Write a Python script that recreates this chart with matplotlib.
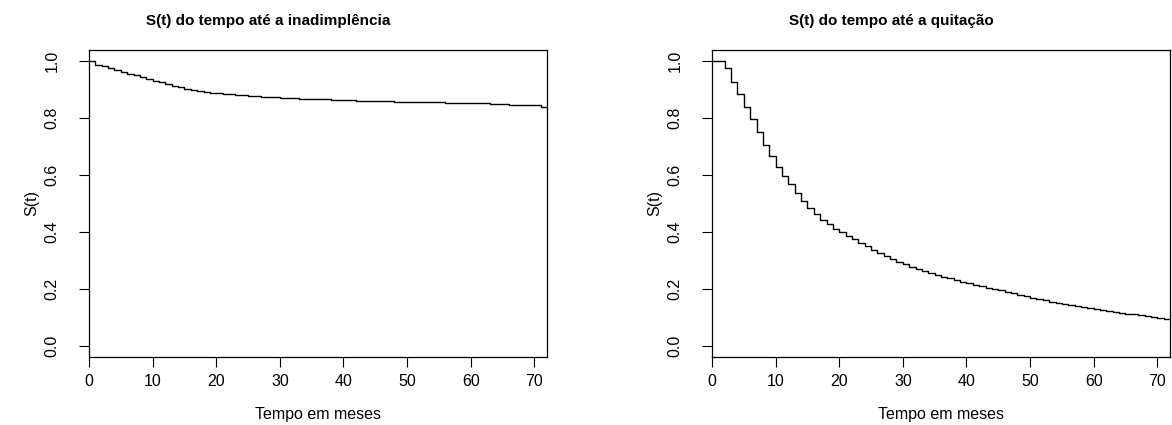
#!/usr/bin/env python3
"""Kaplan-Meier style curves: time to default and time to payoff."""

import matplotlib

matplotlib.use("Agg")
import matplotlib.pyplot as plt
import numpy as np

plt.rcParams["font.family"] = ["Liberation Sans", "DejaVu Sans"]

MONTHS = np.arange(0, 72)

# S(t) for time to default (one value per month)
S_DEFAULT = [
    1.000, 0.988, 0.982, 0.976, 0.970, 0.964, 0.957, 0.951, 0.944, 0.938,
    0.932, 0.926, 0.920, 0.914, 0.909, 0.904, 0.899, 0.895, 0.892, 0.890,
    0.888, 0.886, 0.884, 0.882, 0.880, 0.878, 0.877, 0.875, 0.874, 0.873,
    0.872, 0.871, 0.870, 0.869, 0.868, 0.867, 0.866, 0.866, 0.865, 0.865,
    0.864, 0.863, 0.862, 0.861, 0.861, 0.860, 0.859, 0.859, 0.858, 0.858,
    0.857, 0.857, 0.857, 0.856, 0.856, 0.856, 0.855, 0.855, 0.855, 0.854,
    0.854, 0.853, 0.852, 0.851, 0.850, 0.849, 0.848, 0.847, 0.846, 0.845,
    0.845, 0.841,
]

# S(t) for time to payoff
S_PAYOFF = [
    1.000, 1.000, 0.976, 0.929, 0.885, 0.841, 0.797, 0.751, 0.706, 0.668,
    0.628, 0.597, 0.568, 0.536, 0.509, 0.483, 0.462, 0.441, 0.427, 0.412,
    0.399, 0.386, 0.374, 0.361, 0.350, 0.337, 0.327, 0.316, 0.305, 0.294,
    0.286, 0.278, 0.270, 0.263, 0.256, 0.249, 0.243, 0.237, 0.231, 0.225,
    0.220, 0.215, 0.209, 0.204, 0.199, 0.194, 0.189, 0.184, 0.179, 0.174,
    0.169, 0.164, 0.160, 0.155, 0.151, 0.147, 0.143, 0.139, 0.135, 0.132,
    0.128, 0.125, 0.122, 0.119, 0.116, 0.113, 0.110, 0.107, 0.104, 0.101,
    0.098, 0.095,
]

TITLES = ["S(t) do tempo até a inadimplência", "S(t) do tempo até a quitação"]
X_MAX = 72
X_TICKS = [0, 10, 20, 30, 40, 50, 60, 70]
Y_TICKS = [0.0, 0.2, 0.4, 0.6, 0.8, 1.0]


def style_r_axis(ax) -> None:
    ax.set_xlim(0, X_MAX)
    ax.set_ylim(-0.04, 1.04)
    ax.set_xticks(X_TICKS)
    ax.set_xticklabels([str(v) for v in X_TICKS])
    ax.set_yticks(Y_TICKS)
    ax.set_yticklabels([f"{v:.1f}" for v in Y_TICKS], rotation=90, va="center")
    ax.tick_params(length=7, width=0.8, labelsize=11.5, pad=5, color="black")
    ax.tick_params(axis="y", pad=14)
    for spine in ax.spines.values():
        spine.set_linewidth(0.9)
    ax.set_xlabel("Tempo em meses", fontsize=11.5, labelpad=13)
    ax.set_ylabel("S(t)", fontsize=11.5, labelpad=4)


def main() -> None:
    fig = plt.figure(figsize=(11.72, 4.25), dpi=100)
    ax_left = fig.add_axes([89 / 1172, 68 / 425, 458 / 1172, 307 / 425])
    ax_right = fig.add_axes([712 / 1172, 68 / 425, 458 / 1172, 307 / 425])

    for ax, surv, title in zip([ax_left, ax_right], [S_DEFAULT, S_PAYOFF], TITLES):
        t = np.append(MONTHS, X_MAX)
        s = np.append(surv, surv[-1])
        ax.step(t, s, where="post", color="black", lw=1.0)
        style_r_axis(ax)
        ax.set_title(title, fontsize=11, fontweight="bold", pad=18)
        ax.title.set_x(0.5 - 50 / 458)

    fig.savefig("out.png", dpi=100)
    plt.close(fig)


if __name__ == "__main__":
    main()
